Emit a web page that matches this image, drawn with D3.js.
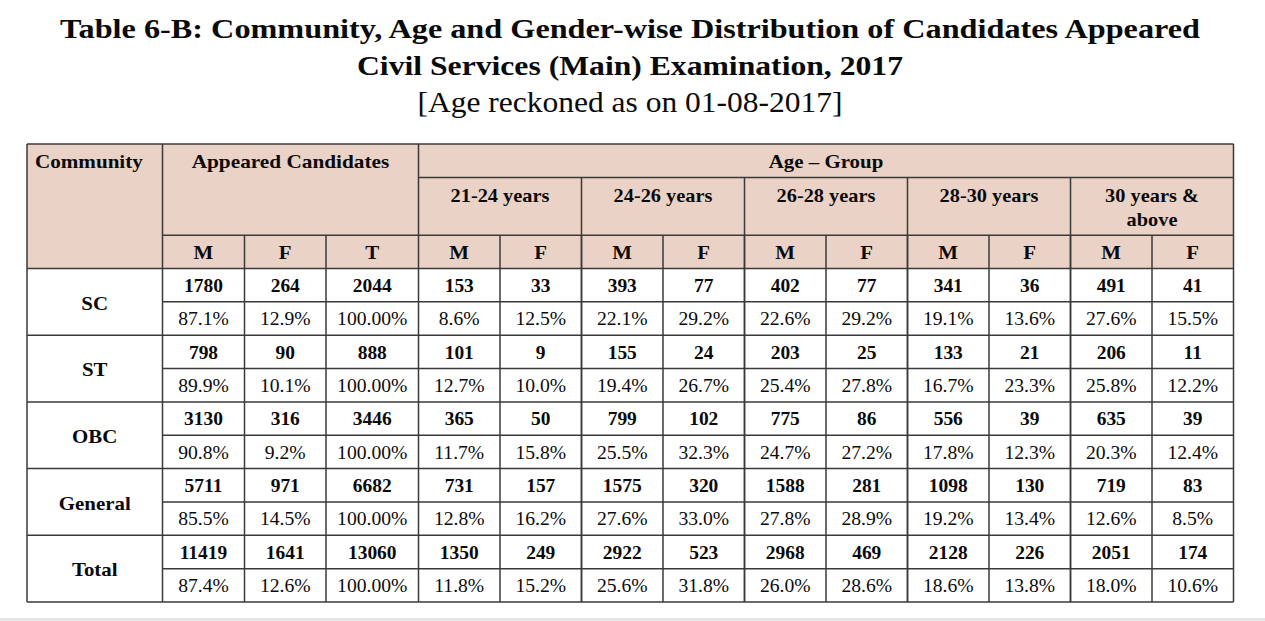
<!DOCTYPE html>
<html>
<head>
<meta charset="utf-8">
<script src="https://cdn.jsdelivr.net/npm/d3@7"></script>
<style>
  html, body { margin: 0; padding: 0; background: #fff; }
  svg { display: block; }
  text { font-family: "Liberation Serif", "Times New Roman", serif; fill: #0a0a0a; }
</style>
</head>
<body>
<script>
// ---------------- DATA ----------------
const titleLines = [
  "Table 6-B: Community, Age and Gender-wise Distribution of Candidates Appeared",
  "Civil Services (Main) Examination, 2017",
  "[Age reckoned as on 01-08-2017]"
];
const communities = ["SC", "ST", "OBC", "General", "Total"];
const ageGroups = ["21-24 years", "24-26 years", "26-28 years", "28-30 years", "30 years & above"];

const appearedM = [1780, 798, 3130, 5711, 11419];
const appearedF = [264, 90, 316, 971, 1641];
const appearedT = [2044, 888, 3446, 6682, 13060];
const appearedMPct = [87.1, 89.9, 90.8, 85.5, 87.4];
const appearedFPct = [12.9, 10.1, 9.2, 14.5, 12.6];
const appearedTPct = [100, 100, 100, 100, 100];

const age2124M = [153, 101, 365, 731, 1350];
const age2124MPct = [8.6, 12.7, 11.7, 12.8, 11.8];
const age2124F = [33, 9, 50, 157, 249];
const age2124FPct = [12.5, 10.0, 15.8, 16.2, 15.2];

const age2426M = [393, 155, 799, 1575, 2922];
const age2426MPct = [22.1, 19.4, 25.5, 27.6, 25.6];
const age2426F = [77, 24, 102, 320, 523];
const age2426FPct = [29.2, 26.7, 32.3, 33.0, 31.8];

const age2628M = [402, 203, 775, 1588, 2968];
const age2628MPct = [22.6, 25.4, 24.7, 27.8, 26.0];
const age2628F = [77, 25, 86, 281, 469];
const age2628FPct = [29.2, 27.8, 27.2, 28.9, 28.6];

const age2830M = [341, 133, 556, 1098, 2128];
const age2830MPct = [19.1, 16.7, 17.8, 19.2, 18.6];
const age2830F = [36, 21, 39, 130, 226];
const age2830FPct = [13.6, 23.3, 12.3, 13.4, 13.8];

const age30pM = [491, 206, 635, 719, 2051];
const age30pMPct = [27.6, 25.8, 20.3, 12.6, 18.0];
const age30pF = [41, 11, 39, 83, 174];
const age30pFPct = [15.5, 12.2, 12.4, 8.5, 10.6];

// ---------------- COLUMN TABLE ----------------
const columns = [
  {key: "aM", head: "M", counts: appearedM, pcts: appearedMPct, fmt: ".1f"},
  {key: "aF", head: "F", counts: appearedF, pcts: appearedFPct, fmt: ".1f"},
  {key: "aT", head: "T", counts: appearedT, pcts: appearedTPct, fmt: ".2f"},
  {key: "g1M", head: "M", counts: age2124M, pcts: age2124MPct, fmt: ".1f"},
  {key: "g1F", head: "F", counts: age2124F, pcts: age2124FPct, fmt: ".1f"},
  {key: "g2M", head: "M", counts: age2426M, pcts: age2426MPct, fmt: ".1f"},
  {key: "g2F", head: "F", counts: age2426F, pcts: age2426FPct, fmt: ".1f"},
  {key: "g3M", head: "M", counts: age2628M, pcts: age2628MPct, fmt: ".1f"},
  {key: "g3F", head: "F", counts: age2628F, pcts: age2628FPct, fmt: ".1f"},
  {key: "g4M", head: "M", counts: age2830M, pcts: age2830MPct, fmt: ".1f"},
  {key: "g4F", head: "F", counts: age2830F, pcts: age2830FPct, fmt: ".1f"},
  {key: "g5M", head: "M", counts: age30pM, pcts: age30pMPct, fmt: ".1f"},
  {key: "g5F", head: "F", counts: age30pF, pcts: age30pFPct, fmt: ".1f"}
];

// ---------------- LAYOUT ----------------
const W = 1265, H = 621;
const headerFill = "#ead2c6";
const lineColor = "#3a3a3a";
const tableLeft = 27, tableTop = 144;
const commW = 135.5;
const colW = {aM: 82, aF: 81.5, aT: 92.5};
const ageColW = 81.5;
const rowH1 = 33.5, rowH2 = 57.7, rowH3 = 33.3;
const dataTop = tableTop + rowH1 + rowH2 + rowH3;
const tableBottom = 602;

const xs = [];
let acc = tableLeft + commW;
columns.forEach(c => { xs.push(acc); acc += (colW[c.key] || ageColW); });
const tableRight = acc;
const xStart = d3.scaleOrdinal().domain(columns.map(c => c.key)).range(xs);
const xWidth = d3.scaleOrdinal().domain(columns.map(c => c.key)).range(columns.map(c => colW[c.key] || ageColW));

const yRow = d3.scaleBand().domain(communities).range([dataTop, tableBottom]).padding(0);

const svg = d3.select("body").append("svg").attr("width", W).attr("height", H);

svg.append("rect").attr("x", 0).attr("y", 618).attr("width", W).attr("height", 3).attr("fill", "#e6e6e6");

// ---------------- TITLE ----------------
const titleSpecs = [
  {y: 37.7, size: 28, weight: "bold", width: 1140},
  {y: 75, size: 28, weight: "bold", width: 546},
  {y: 111.7, size: 30, weight: "normal", width: 425}
];
titleLines.forEach((t, i) => {
  const s = titleSpecs[i];
  svg.append("text")
    .attr("x", 630).attr("y", s.y)
    .attr("text-anchor", "middle")
    .attr("font-size", s.size).attr("font-weight", s.weight)
    .attr("textLength", s.width).attr("lengthAdjust", "spacingAndGlyphs")
    .text(t);
});

// ---------------- HEADER BACKGROUND ----------------
svg.append("rect")
  .attr("x", tableLeft).attr("y", tableTop)
  .attr("width", tableRight - tableLeft).attr("height", dataTop - tableTop)
  .attr("fill", headerFill);

const g = svg.append("g");
const line = (x1, y1, x2, y2) => g.append("line")
  .attr("x1", x1).attr("y1", y1).attr("x2", x2).attr("y2", y2)
  .attr("stroke", lineColor).attr("stroke-width", 1.5);

// ---------------- TEXT HELPER ----------------
function label(x, y, txt, opts = {}) {
  const el = svg.append("text")
    .attr("x", x).attr("y", y)
    .attr("text-anchor", opts.anchor || "middle")
    .attr("dy", "0.35em")
    .attr("font-size", opts.size || 19)
    .attr("font-weight", opts.weight || "bold")
    .text(txt);
  const len = el.node().getComputedTextLength();
  const f = opts.stretch || 1.09;
  el.attr("textLength", len * f).attr("lengthAdjust", "spacingAndGlyphs");
  return el;
}

// ---------------- HEADERS ----------------
const y1c = tableTop + rowH1 / 2 + 0.5;
const ageLeft = xStart("g1M");
label(tableLeft + 8, y1c, "Community", {anchor: "start", stretch: 1.11});
label((xStart("aM") + ageLeft) / 2, y1c, "Appeared Candidates", {stretch: 1.12});
label((ageLeft + tableRight) / 2, y1c, "Age \u2013 Group", {stretch: 1.1});

const y2c = tableTop + rowH1 + 18;
ageGroups.forEach((a, i) => {
  const k = columns[3 + i * 2].key;
  const cx = xStart(k) + ageColW;
  if (a.indexOf("&") >= 0) {
    label(cx, y2c, "30 years &", {stretch: 1.07});
    label(cx, y2c + 23.5, "above", {stretch: 1.07});
  } else {
    label(cx, y2c, a, {stretch: 1.07});
  }
});

const y3c = tableTop + rowH1 + rowH2 + rowH3 / 2;
columns.forEach(c => label(xStart(c.key) + xWidth(c.key) / 2, y3c, c.head, {stretch: 1.1}));

// ---------------- DATA CELLS ----------------
communities.forEach((comm, ri) => {
  const top = yRow(comm), bh = yRow.bandwidth();
  label(tableLeft + commW / 2, top + bh / 2 + 1, comm, {stretch: 1.1});
  columns.forEach(c => {
    const cx = xStart(c.key) + xWidth(c.key) / 2;
    label(cx, top + bh / 4 + 0.5, String(c.counts[ri]), {size: 18, stretch: 1.08});
    label(cx, top + bh * 3 / 4 + 0.5, d3.format(c.fmt)(c.pcts[ri]) + "%", {size: 18, weight: "normal", stretch: 1.09});
  });
});

// ---------------- GRID LINES ----------------
line(tableLeft, tableTop, tableRight, tableTop);
line(tableLeft, tableBottom, tableRight, tableBottom);
line(tableLeft, tableTop, tableLeft, tableBottom);
line(tableRight, tableTop, tableRight, tableBottom);
line(ageLeft, tableTop + rowH1, tableRight, tableTop + rowH1);
line(xStart("aM"), tableTop + rowH1 + rowH2, tableRight, tableTop + rowH1 + rowH2);
line(tableLeft, dataTop, tableRight, dataTop);
line(xStart("aM"), tableTop, xStart("aM"), tableBottom);
line(ageLeft, tableTop, ageLeft, tableBottom);
ageGroups.forEach((a, i) => {
  if (i > 0) {
    const x = xStart(columns[3 + i * 2].key);
    line(x, tableTop + rowH1, x, tableBottom);
  }
});
columns.forEach((c, i) => {
  if (i === 0 || c.key === "g1M") return;
  const x = xStart(c.key);
  line(x, tableTop + rowH1 + rowH2, x, tableBottom);
});
communities.forEach((comm, ri) => {
  const top = yRow(comm), bh = yRow.bandwidth();
  line(xStart("aM"), top + bh / 2, tableRight, top + bh / 2);
  if (ri > 0) line(tableLeft, top, tableRight, top);
});
</script>
</body>
</html>
